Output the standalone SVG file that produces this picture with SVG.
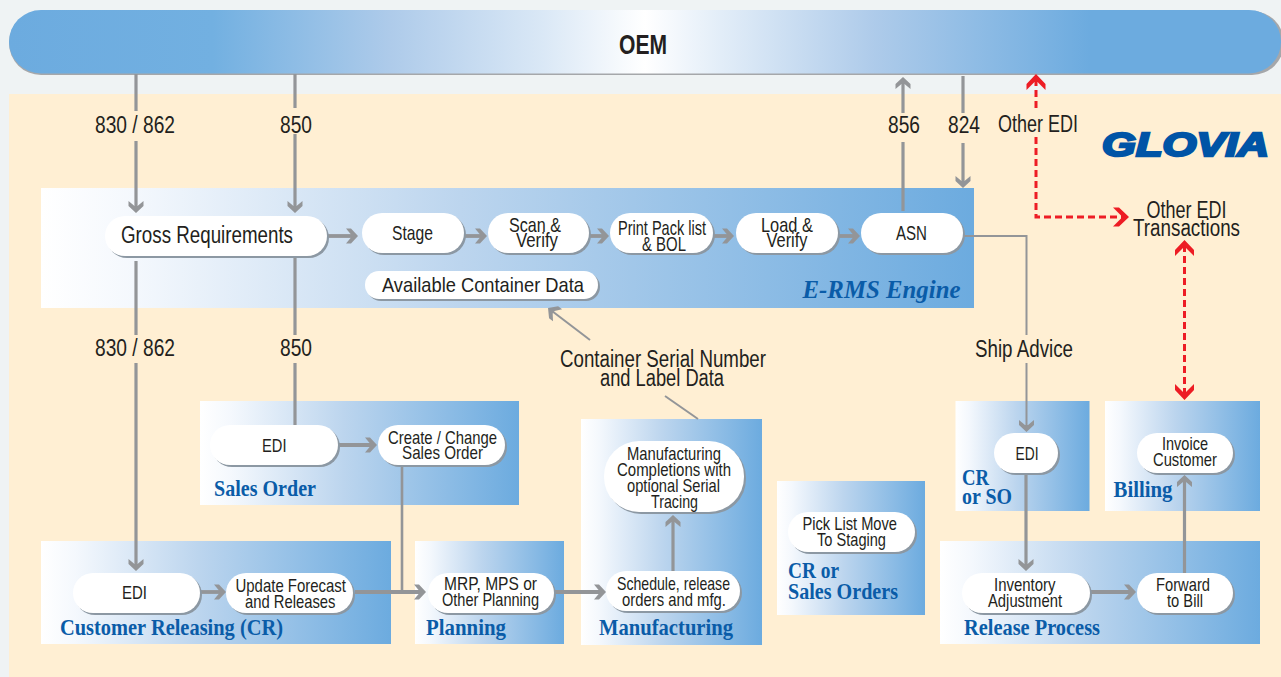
<svg xmlns="http://www.w3.org/2000/svg" width="1281" height="677" viewBox="0 0 1281 677">
<style>
text{font-family:"Liberation Sans",Arial,sans-serif;fill:#231f20}
.s{font-size:21px}.n{font-size:19px}.m{font-size:23px}
.t{font-family:"Liberation Serif","Times New Roman",serif;font-weight:bold;font-size:23px;fill:#0a5ca8}
.box{fill:url(#g)}
.pill{fill:#fff}
.sh{fill:#8c98a3}
.c{fill:none;stroke:#939598;stroke-width:3.2}
.a{marker-end:url(#ah)}
.h{stroke-width:3.8}
.thin{stroke-width:2}
.r{fill:none;stroke:#ed1c24;stroke-width:3;stroke-dasharray:7 4}
</style>
<defs>
<linearGradient id="g"><stop offset="0" stop-color="#fff"/><stop offset=".1" stop-color="#f4f8fd"/><stop offset=".45" stop-color="#bcd5ee"/><stop offset="1" stop-color="#6cabdf"/></linearGradient>
<linearGradient id="oem"><stop offset="0" stop-color="#6cabdf"/><stop offset=".16" stop-color="#72b0e1"/><stop offset=".3" stop-color="#aecbea"/><stop offset=".42" stop-color="#dae8f6"/><stop offset=".5" stop-color="#fff"/><stop offset=".56" stop-color="#e2edf8"/><stop offset=".68" stop-color="#aecbea"/><stop offset=".85" stop-color="#6cabdf"/><stop offset="1" stop-color="#6cabdf"/></linearGradient>
<marker id="ah" markerUnits="userSpaceOnUse" markerWidth="30" markerHeight="30" orient="auto" refX="0" refY="0" overflow="visible"><path d="M5 0L-2-7.500H-7L-2-1.500V1.500L-7 7.500H-2Z" fill="#939598"/></marker>
<marker id="rh" markerUnits="userSpaceOnUse" markerWidth="30" markerHeight="30" orient="auto-start-reverse" refX="0" refY="0" overflow="visible"><path d="M5 0L-5-9.500H-11L-3-1.500V1.500L-11 9.500H-5Z" fill="#ed1c24"/></marker>
</defs>
<rect width="1281" height="677" fill="#eff3f4"/>
<rect x="9" y="94" width="1272" height="583" fill="#ffefd3"/>

<g id="oem-bar"><rect x="9" y="11" width="1275" height="64" rx="32" fill="#a5a7aa"/><rect x="9" y="10" width="1272" height="63.500" rx="32" fill="url(#oem)"/><text x="619" y="54" font-size="28" font-weight="bold" textLength="48" lengthAdjust="spacingAndGlyphs">OEM</text></g>

<g id="erms-engine"><rect class="box" x="41" y="188" width="933" height="120"/><text class="t" x="802.500" y="298" style="font-style:italic;font-size:26px" textLength="158" lengthAdjust="spacingAndGlyphs">E-RMS Engine</text></g>
<g id="sales-order"><rect class="box" x="200" y="401" width="319" height="104"/><text class="t" x="214" y="496" textLength="102" lengthAdjust="spacingAndGlyphs">Sales Order</text></g>
<g id="customer-releasing"><rect class="box" x="41" y="541" width="350" height="103"/><text class="t" x="60" y="635" textLength="223" lengthAdjust="spacingAndGlyphs">Customer Releasing (CR)</text></g>
<g id="planning"><rect class="box" x="415" y="541" width="149" height="103"/><text class="t" x="426" y="635" textLength="80" lengthAdjust="spacingAndGlyphs">Planning</text></g>
<g id="manufacturing"><rect class="box" x="581" y="419" width="181" height="226"/><text class="t" x="599" y="635" textLength="134" lengthAdjust="spacingAndGlyphs">Manufacturing</text></g>
<g id="cr-or-sales-orders"><rect class="box" x="777" y="481" width="148" height="134"/><text class="t" x="788" y="578" textLength="51" lengthAdjust="spacingAndGlyphs">CR or</text><text class="t" x="788" y="599" textLength="110" lengthAdjust="spacingAndGlyphs">Sales Orders</text></g>
<g id="cr-or-so"><rect class="box" x="955.500" y="401" width="134" height="110"/><text class="t" x="962" y="485" textLength="27" lengthAdjust="spacingAndGlyphs">CR</text><text class="t" x="962" y="504" textLength="50" lengthAdjust="spacingAndGlyphs">or SO</text></g>
<g id="billing"><rect class="box" x="1105" y="401" width="155" height="110"/><text class="t" x="1113.500" y="497" textLength="59" lengthAdjust="spacingAndGlyphs">Billing</text></g>
<g id="release-process"><rect class="box" x="940" y="541" width="320" height="103"/><text class="t" x="964" y="635" textLength="136" lengthAdjust="spacingAndGlyphs">Release Process</text></g>

<g id="connectors">
<path class="c" d="M136 74V111"/><path class="c a" d="M136 141V208"/>
<path class="c" d="M295 74V108"/><path class="c a" d="M295 134V208"/>
<path class="c" d="M136 261V335"/><path class="c a" d="M136 363V566"/>
<path class="c" d="M295 257V335M295 363V425"/>
<path class="c a h" d="M328 236H353"/><path class="c a h" d="M464 236H482"/><path class="c a h" d="M590 236H604"/><path class="c a h" d="M713 236H729"/><path class="c a h" d="M838 236H855"/>
<path class="c" d="M903 211V142"/><path class="c a" d="M903 113V82"/>
<path class="c" d="M963 76V113"/><path class="c a" d="M963 143V183"/>
<path class="c a thin" d="M590 340L552 311"/><path class="c thin" d="M665 396L698 419"/>
<path class="c thin" d="M963 236H1026.500V335"/><path class="c thin a" d="M1026.500 363V427"/>
<path class="c a h" d="M338 445H372"/><path class="c" style="stroke-width:2.600" d="M402 466V592"/>
<path class="c a h" d="M200 592H221"/><path class="c a h" d="M355 592H421"/><path class="c a h" d="M555 592H601"/>
<path class="c a" d="M673 571V520"/>
<path class="c a" d="M1026 474V566"/><path class="c a h" d="M1090 592H1131"/><path class="c a" d="M1184.500 573V480"/>
<path class="r" style="marker-start:url(#rh)" d="M1036 79V112"/><path class="r" d="M1036 137V217H1124" marker-end="url(#rh)"/>
<path class="r" style="marker-start:url(#rh)" d="M1184.500 245V395" marker-end="url(#rh)"/>
</g>

<g id="labels">
<text class="m" x="95" y="133" textLength="80" lengthAdjust="spacingAndGlyphs">830 / 862</text>
<text class="m" x="280" y="133" textLength="32" lengthAdjust="spacingAndGlyphs">850</text>
<text class="m" x="95" y="356" textLength="80" lengthAdjust="spacingAndGlyphs">830 / 862</text>
<text class="m" x="280" y="356" textLength="32" lengthAdjust="spacingAndGlyphs">850</text>
<text class="m" x="888" y="133" textLength="32" lengthAdjust="spacingAndGlyphs">856</text>
<text class="m" x="948" y="133" textLength="32" lengthAdjust="spacingAndGlyphs">824</text>
<text class="m" x="998" y="132" textLength="80" lengthAdjust="spacingAndGlyphs">Other EDI</text>
<text class="m" x="1146.500" y="218" textLength="80" lengthAdjust="spacingAndGlyphs">Other EDI</text>
<text class="m" x="1133" y="236" textLength="107" lengthAdjust="spacingAndGlyphs">Transactions</text>
<text class="m" x="560" y="367" textLength="206" lengthAdjust="spacingAndGlyphs">Container Serial Number</text>
<text class="m" x="600" y="386" textLength="124" lengthAdjust="spacingAndGlyphs">and Label Data</text>
<text class="m" x="975" y="357" textLength="98" lengthAdjust="spacingAndGlyphs">Ship Advice</text>
<text x="1102" y="156" style="font-size:34px;font-weight:bold;font-style:italic;fill:#0054a6;stroke:#0054a6;stroke-width:2.400" textLength="167" lengthAdjust="spacingAndGlyphs">GLOVIA</text>
</g>

<g id="n-gross"><rect class="sh" x="107" y="218" width="222" height="40" rx="20"/><rect class="pill" x="105" y="216" width="222" height="40" rx="20"/><text class="m" x="121" y="243" textLength="172" lengthAdjust="spacingAndGlyphs">Gross Requirements</text></g>
<g id="n-stage"><rect class="sh" x="364" y="215" width="102" height="40" rx="20"/><rect class="pill" x="362" y="213" width="102" height="40" rx="20"/><text class="s" x="392" y="240" textLength="41" lengthAdjust="spacingAndGlyphs">Stage</text></g>
<g id="n-scan"><rect class="sh" x="490" y="215" width="101" height="40" rx="20"/><rect class="pill" x="488" y="213" width="101" height="40" rx="20"/><text class="s" x="509" y="232" textLength="52" lengthAdjust="spacingAndGlyphs">Scan &amp;</text><text class="s" x="516" y="247" textLength="42" lengthAdjust="spacingAndGlyphs">Verify</text></g>
<g id="n-print"><rect class="sh" x="612" y="215" width="103" height="40" rx="20"/><rect class="pill" x="610" y="213" width="103" height="40" rx="20"/><text class="s" x="618" y="235" textLength="88" lengthAdjust="spacingAndGlyphs">Print Pack list</text><text class="s" x="642" y="251" textLength="44" lengthAdjust="spacingAndGlyphs">&amp; BOL</text></g>
<g id="n-load"><rect class="sh" x="738" y="215" width="102" height="40" rx="20"/><rect class="pill" x="736" y="213" width="102" height="40" rx="20"/><text class="s" x="761" y="232" textLength="52" lengthAdjust="spacingAndGlyphs">Load &amp;</text><text class="s" x="766.500" y="247" textLength="41" lengthAdjust="spacingAndGlyphs">Verify</text></g>
<g id="n-asn"><rect class="sh" x="863" y="215" width="102" height="40" rx="20"/><rect class="pill" x="861" y="213" width="102" height="40" rx="20"/><text class="s" x="896" y="240" textLength="31" lengthAdjust="spacingAndGlyphs">ASN</text></g>
<g id="n-available"><rect class="sh" x="367" y="273" width="233" height="28" rx="14"/><rect class="pill" x="365" y="271" width="233" height="28" rx="14"/><text class="s" x="382" y="292" textLength="202" lengthAdjust="spacingAndGlyphs">Available Container Data</text></g>

<g id="n-so-edi"><rect class="sh" x="212" y="427" width="128" height="40" rx="20"/><rect class="pill" x="210" y="425" width="128" height="40" rx="20"/><text class="n" x="262" y="452" textLength="24.500" lengthAdjust="spacingAndGlyphs">EDI</text></g>
<g id="n-create"><rect class="sh" x="380" y="427" width="127" height="40" rx="20"/><rect class="pill" x="378" y="425" width="127" height="40" rx="20"/><text class="n" x="388" y="444" textLength="109" lengthAdjust="spacingAndGlyphs">Create / Change</text><text class="n" x="402" y="459" textLength="81" lengthAdjust="spacingAndGlyphs">Sales Order</text></g>
<g id="n-cr-edi"><rect class="sh" x="75" y="575" width="127" height="40" rx="20"/><rect class="pill" x="73" y="573" width="127" height="40" rx="20"/><text class="n" x="122" y="599" textLength="25" lengthAdjust="spacingAndGlyphs">EDI</text></g>
<g id="n-update"><rect class="sh" x="228" y="575" width="127" height="40" rx="20"/><rect class="pill" x="226" y="573" width="127" height="40" rx="20"/><text class="n" x="235.500" y="592" textLength="110.500" lengthAdjust="spacingAndGlyphs">Update Forecast</text><text class="n" x="245" y="608" textLength="90.500" lengthAdjust="spacingAndGlyphs">and Releases</text></g>
<g id="n-mrp"><rect class="sh" x="430" y="575" width="126" height="40" rx="20"/><rect class="pill" x="428" y="573" width="126" height="40" rx="20"/><text class="n" x="444" y="590" textLength="93" lengthAdjust="spacingAndGlyphs">MRP, MPS or</text><text class="n" x="442" y="606" textLength="97" lengthAdjust="spacingAndGlyphs">Other Planning</text></g>
<g id="n-completions"><rect class="sh" x="606" y="443" width="140" height="71" rx="35"/><rect class="pill" x="604" y="441" width="140" height="71" rx="35"/><text class="n" x="627" y="460" textLength="94" lengthAdjust="spacingAndGlyphs">Manufacturing</text><text class="n" x="617" y="476" textLength="114" lengthAdjust="spacingAndGlyphs">Completions with</text><text class="n" x="627" y="492" textLength="93" lengthAdjust="spacingAndGlyphs">optional Serial</text><text class="n" x="651" y="507.500" textLength="47" lengthAdjust="spacingAndGlyphs">Tracing</text></g>
<g id="n-schedule"><rect class="sh" x="608" y="573" width="134" height="40" rx="20"/><rect class="pill" x="606" y="571" width="134" height="40" rx="20"/><text class="n" x="617" y="590" textLength="113" lengthAdjust="spacingAndGlyphs">Schedule, release</text><text class="n" x="622" y="606" textLength="104" lengthAdjust="spacingAndGlyphs">orders and mfg.</text></g>
<g id="n-pick"><rect class="sh" x="790" y="514" width="127" height="40" rx="20"/><rect class="pill" x="788" y="512" width="127" height="40" rx="20"/><text class="n" x="802.500" y="530" textLength="94.500" lengthAdjust="spacingAndGlyphs">Pick List Move</text><text class="n" x="817" y="546" textLength="69" lengthAdjust="spacingAndGlyphs">To Staging</text></g>
<g id="n-ship-edi"><rect class="sh" x="996" y="435" width="64" height="40" rx="20"/><rect class="pill" x="994" y="433" width="64" height="40" rx="20"/><text class="n" x="1015.500" y="460" textLength="23" lengthAdjust="spacingAndGlyphs">EDI</text></g>
<g id="n-invoice"><rect class="sh" x="1139" y="435" width="96" height="40" rx="20"/><rect class="pill" x="1137" y="433" width="96" height="40" rx="20"/><text class="n" x="1162" y="450" textLength="46" lengthAdjust="spacingAndGlyphs">Invoice</text><text class="n" x="1153" y="466" textLength="64" lengthAdjust="spacingAndGlyphs">Customer</text></g>
<g id="n-inventory"><rect class="sh" x="964" y="575" width="128" height="40" rx="20"/><rect class="pill" x="962" y="573" width="128" height="40" rx="20"/><text class="n" x="994" y="591" textLength="61.500" lengthAdjust="spacingAndGlyphs">Inventory</text><text class="n" x="988" y="607" textLength="74" lengthAdjust="spacingAndGlyphs">Adjustment</text></g>
<g id="n-forward"><rect class="sh" x="1139" y="575" width="96" height="40" rx="20"/><rect class="pill" x="1137" y="573" width="96" height="40" rx="20"/><text class="n" x="1156" y="591" textLength="54" lengthAdjust="spacingAndGlyphs">Forward</text><text class="n" x="1167" y="607" textLength="36" lengthAdjust="spacingAndGlyphs">to Bill</text></g>
</svg>
